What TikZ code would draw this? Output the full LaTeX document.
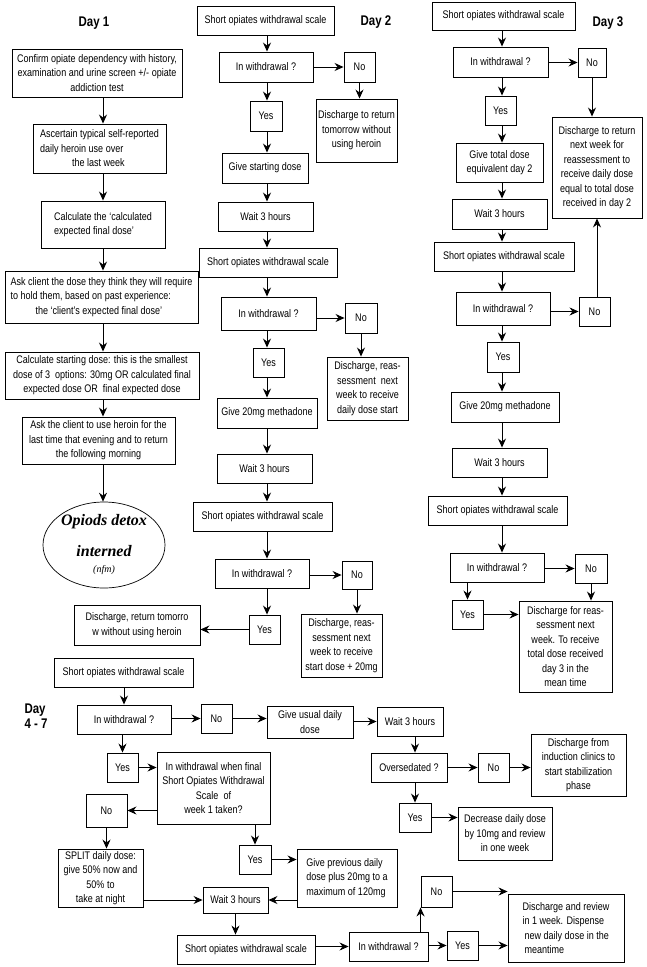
\documentclass[tikz,border=0pt]{standalone}
\usepackage{fontspec}
\newfontfamily\boxfont[FakeStretch=0.82]{Liberation Sans}
\newfontfamily\ovalfont{Liberation Serif}
\usepackage{tikz}
\usetikzlibrary{arrows.meta,shapes.geometric}

\tikzset{
  bx/.style 2 args={draw, line width=0.9pt, inner sep=1pt, align=center,
    font=\boxfont\fontsize{11}{14.5}\selectfont,
    minimum width=#1pt, minimum height=#2pt},
  arr/.style={-{Stealth[length=9pt,width=8pt,inset=3pt]}, line width=0.9pt},
  daylbl/.style={font=\boxfont\bfseries\fontsize{14}{15.5}\selectfont, align=left}
}

\begin{document}
\begin{tikzpicture}[x=1pt, y=-1pt]
  \useasboundingbox (0,0) rectangle (647,967);

  % day 1
  \node[daylbl] (day1) at (94,23) {Day 1};
  \node[bx={170}{48}] (A1) at (97,73) {Confirm opiate dependency with history,\\ examination and urine screen +/- opiate\\ addiction test};
  \node[bx={133}{49}, align=left] (A2) at (99.5,148.5) {Ascertain typical self-reported\\ daily heroin use over\\ \hspace*{32pt}the last week};
  \node[bx={124}{47}, align=left] (A3) at (103,224.5) {Calculate the ‘calculated\\ expected final dose’};
  \node[bx={193}{52}, align=left] (A4) at (101.5,297) {Ask client the dose they think they will require\\ to hold them, based on past experience:\\ \hspace*{25pt}the ‘client’s expected final dose’};
  \node[bx={194}{47}] (A5) at (102,375.5) {Calculate starting dose: this is the smallest\\ dose of 3~ options: 30mg OR calculated final\\ expected dose OR~ final expected dose};
  \node[bx={153}{47}] (A6) at (98.5,440.5) {Ask the client to use heroin for the\\ last time that evening and to return\\ the following morning};
  \node[draw, ellipse, line width=0.7pt, minimum width=122pt, minimum height=86pt, inner sep=0pt, align=center,
    font=\ovalfont\fontsize{16}{31}\selectfont] (oval) at (104,545)
    {\bfseries\itshape Opiods detox\\ \bfseries\itshape interned\\[-15pt] \itshape\fontsize{10}{12}\selectfont (nfm)};
  \node[bx={126}{40}] (Dtom) at (137,625) {Discharge, return tomorro\\ w without using heroin};

  \draw[arr] (A1.south -| A3) -- (A2.north -| A3);
  \draw[arr] (A2.south -| A3) -- (A3.north);
  \draw[arr] (A3.south) -- (A4.north -| A3);
  \draw[arr] (A4.south -| A3) -- (A5.north -| A3);
  \draw[arr] (A5.south -| A3) -- (A6.north -| A3);
  \draw[arr] (A6.south -| A3) -- (oval.north -| A3);

  % day 2
  \coordinate (colB) at (267,0);
  \node[daylbl] (day2) at (376,22) {Day 2};
  \node[bx={137}{29}] (B1) at (265.5,20.5) {Short opiates withdrawal scale};
  \node[bx={94}{30}] (B2) at (266,67) {In withdrawal ?};
  \node[bx={31}{30}] (B2No) at (359.5,67) {No};
  \node[bx={81}{63}] (B2dis) at (356.5,130.5) {Discharge to return\\ tomorrow without\\ using heroin};
  \node[bx={32}{30}] (B2Yes) at (266,116) {Yes};
  \node[bx={86}{30}] (B3) at (265,168) {Give starting dose};
  \node[bx={95}{29}] (B4) at (265.5,216.5) {Wait 3 hours};
  \node[bx={138}{29}] (B5) at (268,262.5) {Short opiates withdrawal scale};
  \node[bx={95}{33}] (B6) at (268.5,313.5) {In withdrawal ?};
  \node[bx={32}{30}] (B6No) at (361,318) {No};
  \node[bx={81}{63}] (B6dis) at (367.5,388.5) {Discharge, reas-\\ sessment~ next\\ week to receive\\ daily dose start};
  \node[bx={31}{29}] (B6Yes) at (268.5,362.5) {Yes};
  \node[bx={100}{30}] (B7) at (267,413) {Give 20mg methadone};
  \node[bx={95}{29}] (B8) at (264.5,468.5) {Wait 3 hours};
  \node[bx={139}{29}] (B9) at (262.5,516.5) {Short opiates withdrawal scale};
  \node[bx={94}{29}] (B10) at (262,573.5) {In withdrawal ?};
  \node[bx={30}{28}] (B10No) at (357,575) {No};
  \node[bx={81}{63}] (B10dis) at (341.5,645.5) {Discharge, reas-\\ sessment next\\ week to receive\\ start dose + 20mg};
  \node[bx={31}{29}] (B10Yes) at (264.5,629.5) {Yes};

  \draw[arr] (B1.south -| colB) -- (B2.north -| colB);
  \draw[arr] (B2.east) -- (B2No.west);
  \draw[arr] (B2No.south) -- (B2No.south |- B2dis.north);
  \draw[arr] (B2.south -| colB) -- (B2Yes.north -| colB);
  \draw[arr] (B2Yes.south -| colB) -- (B3.north -| colB);
  \draw[arr] (B3.south -| colB) -- (B4.north -| colB);
  \draw[arr] (B4.south -| colB) -- (B5.north -| colB);
  \draw[arr] (B5.south -| colB) -- (B6.north -| colB);
  \draw[arr] (B6.east |- B6No) -- (B6No.west);
  \draw[arr] (B6No.south) -- (B6No.south |- B6dis.north);
  \draw[arr] (B6.south -| colB) -- (B6Yes.north -| colB);
  \draw[arr] (B6Yes.south -| colB) -- (B7.north -| colB);
  \draw[arr] (B7.south -| colB) -- (B8.north -| colB);
  \draw[arr] (B8.south -| colB) -- (B9.north -| colB);
  \draw[arr] (B9.south -| colB) -- (B10.north -| colB);
  \draw[arr] (B10.east |- B10No) -- (B10No.west);
  \draw[arr] (B10No.south) -- (B10No.south |- B10dis.north);
  \draw[arr] (B10.south -| colB) -- (B10Yes.north -| colB);
  \draw[arr] (B10Yes.west) -- (B10Yes.west -| Dtom.east);

  % day 3
  \coordinate (colC) at (502,0);
  \node[daylbl] (day3) at (608,23) {Day 3};
  \node[bx={143}{28}] (C1) at (503.5,16) {Short opiates withdrawal scale};
  \node[bx={95}{30}] (C2) at (500.5,62) {In withdrawal ?};
  \node[bx={28}{29}] (C2No) at (592,62.5) {No};
  \node[bx={90}{101}] (C2dis) at (597,167.5) {Discharge to return\\ next week for\\ reassessment to\\ receive daily dose\\ equal to total dose\\ received in day 2};
  \node[bx={31}{29}] (C2Yes) at (500.5,110.5) {Yes};
  \node[bx={87}{39}] (C3) at (499.5,162.5) {Give total dose\\ equivalent day 2};
  \node[bx={95}{30}] (C4) at (499.5,214) {Wait 3 hours};
  \node[bx={140}{29}] (C5) at (504,256.5) {Short opiates withdrawal scale};
  \node[bx={94}{33}] (C6) at (503,308.5) {In withdrawal ?};
  \node[bx={31}{29}] (C6No) at (594.5,311.5) {No};
  \node[bx={32}{30}] (C6Yes) at (503,357) {Yes};
  \node[bx={108}{30}] (C7) at (505,407) {Give 20mg methadone};
  \node[bx={95}{29}] (C8) at (499.5,462.5) {Wait 3 hours};
  \node[bx={139}{29}] (C9) at (497.5,510.5) {Short opiates withdrawal scale};
  \node[bx={94}{29}] (C10) at (497,567.5) {In withdrawal ?};
  \node[bx={32}{29}] (C10No) at (591,568.5) {No};
  \node[bx={31}{29}] (C10Yes) at (467.5,614.5) {Yes};
  \node[bx={93}{91}] (C10dis) at (565.5,646.5) {Discharge for reas-\\ sessment next\\ week. To receive\\ total dose received\\ day 3 in the\\ mean time};

  \draw[arr] (C1.south -| colC) -- (C2.north -| colC);
  \draw[arr] (C2.east |- C2No) -- (C2No.west);
  \draw[arr] (C2No.south) -- (C2No.south |- C2dis.north);
  \draw[arr] (C2.south -| colC) -- (C2Yes.north -| colC);
  \draw[arr] (C2Yes.south -| colC) -- (C3.north -| colC);
  \draw[arr] (C3.south -| colC) -- (C4.north -| colC);
  \draw[arr] (C4.south -| colC) -- (C5.north -| colC);
  \draw[arr] (C5.south -| colC) -- (C6.north -| colC);
  \draw[arr] (C6.east |- C6No) -- (C6No.west);
  \draw[arr] (C6No.north -| C2dis) -- (C2dis.south);
  \draw[arr] (C6.south -| colC) -- (C6Yes.north -| colC);
  \draw[arr] (C6Yes.south -| colC) -- (C7.north -| colC);
  \draw[arr] (C7.south -| colC) -- (C8.north -| colC);
  \draw[arr] (C8.south -| colC) -- (C9.north -| colC);
  \draw[arr] (C9.south -| colC) -- (C10.north -| colC);
  \draw[arr] (C10.east |- C10No) -- (C10No.west);
  \draw[arr] (C10No.south) -- (C10No.south |- C10dis.north);
  \draw[arr] (C10.south -| C10Yes) -- (C10Yes.north);
  \draw[arr] (C10Yes.east) -- (C10Yes.east -| C10dis.west);

  % day 4 - 7
  \node[daylbl] (day4) at (36,716) {Day\\ 4 - 7};
  \node[bx={139}{29}] (D1) at (123.5,672.5) {Short opiates withdrawal scale};
  \node[bx={94}{29}] (D2) at (124,719.5) {In withdrawal ?};
  \node[bx={31}{29}] (D2No) at (216.5,718.5) {No};
  \node[bx={86}{32}] (D3) at (310,722) {Give usual daily\\ dose};
  \node[bx={66}{29}] (D4) at (410,721.5) {Wait 3 hours};
  \node[bx={76}{29}] (D5) at (409,767.5) {Oversedated ?};
  \node[bx={31}{29}] (D5No) at (493.5,767.5) {No};
  \node[bx={95}{62}] (D5dis) at (578.5,765) {Discharge from\\ induction clinics to\\ start stabilization\\ phase};
  \node[bx={32}{29}] (D5Yes) at (415,817.5) {Yes};
  \node[bx={94}{53}] (Decr) at (505,833.5) {Decrease daily dose\\ by 10mg and review\\ in one week};
  \node[bx={31}{29}] (D2Yes) at (122.5,767.5) {Yes};
  \node[bx={113}{72}] (D6) at (213.5,788) {In withdrawal when final\\ Short Opiates Withdrawal\\ Scale~ of\\ week 1 taken?};
  \node[bx={41}{33}] (D6No) at (106.5,810.5) {No};
  \node[bx={85}{58}] (Split) at (100.5,878) {SPLIT daily dose:\\ give 50\% now and\\ 50\% to\\ take at night};
  \node[bx={32}{29}] (D6Yes) at (255,859.5) {Yes};
  \node[bx={100}{58}, align=left] (D7) at (347,878) {Give previous daily\\ dose plus 20mg to a\\ maximum of 120mg};
  \node[bx={65}{26}] (D8) at (235.5,900) {Wait 3 hours};
  \node[bx={138}{29}] (D9) at (246,949.5) {Short opiates withdrawal scale};
  \node[bx={79}{29}] (D10) at (388.5,946.5) {In withdrawal ?};
  \node[bx={31}{29}] (D10Yes) at (462.5,945.5) {Yes};
  \node[bx={31}{31}] (D10No) at (436.5,891.5) {No};
  \node[bx={116}{68}, align=left] (D10dis) at (566,928) {Discharge and review\\ in 1 week. Dispense\\ \hspace*{2pt}new daily dose in the\\ \hspace*{2pt}meantime};

  \draw[arr] (D1.south -| D2) -- (D2.north);
  \draw[arr] (D2.east |- D2No) -- (D2No.west);
  \draw[arr] (D2No.east) -- (D2No.east -| D3.west);
  \draw[arr] (D3.east |- D4) -- (D4.west);
  \draw[arr] (D4.south -| D5Yes) -- (D5.north -| D5Yes);
  \draw[arr] (D5.east) -- (D5No.west);
  \draw[arr] (D5No.east) -- (D5No.east -| D5dis.west);
  \draw[arr] (D5.south -| D5Yes) -- (D5Yes.north);
  \draw[arr] (D5Yes.east) -- (D5Yes.east -| Decr.west);
  \draw[arr] (D2.south -| D2Yes) -- (D2Yes.north);
  \draw[arr] (D2Yes.east) -- (D2Yes.east -| D6.west);
  \draw[arr] (D6.west |- D6No) -- (D6No.east);
  \draw[arr] (D6No.south) -- (D6No.south |- Split.north);
  \draw[arr] (D6.south -| D6Yes) -- (D6Yes.north);
  \draw[arr] (D6Yes.east) -- (D6Yes.east -| D7.west);
  \draw[arr] (D7.west |- D8) -- (D8.east);
  \draw[arr] (Split.east |- D8) -- (D8.west);
  \draw[arr] (D8.south) -- (D8.south |- D9.north);
  \draw[arr] (D9.east |- D10) -- (D10.west);
  \draw[arr] (D10.east |- D10Yes) -- (D10Yes.west);
  \draw[arr] (D10Yes.east) -- (D10Yes.east -| D10dis.west);
  \draw[arr] (D10.north -| D10No.west) -- (D10No.south west);
  \draw[arr] (D10No.east) -- (D10No.east -| D10dis.west);
\end{tikzpicture}
\end{document}
